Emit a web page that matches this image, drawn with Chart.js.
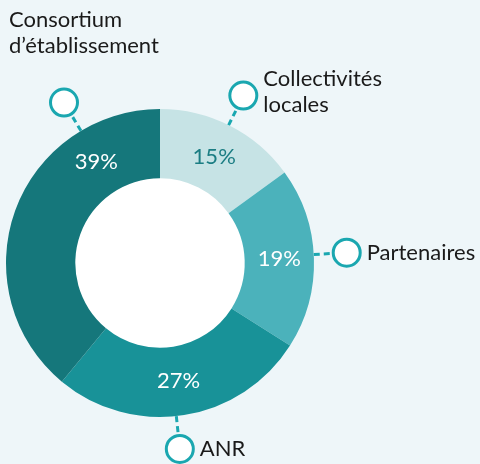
<!DOCTYPE html>
<html><head><meta charset="utf-8">
<script src="https://cdn.jsdelivr.net/npm/chart.js@4"></script>
<style>
html,body{margin:0;padding:0;background:#eef6f9;}
#wrap{position:relative;width:480px;height:464px;}
canvas{display:block;}
</style></head>
<body><div id="wrap"><canvas id="c" width="480" height="464"></canvas></div>
<script>
const categories = ["Collectivités\nlocales", "Partenaires", "ANR", "Consortium\nd’établissement"];
const values = [15, 19, 27, 39];
const percentLabels = ["15%", "19%", "27%", "39%"];
const sliceColors = ["#c6e3e5", "#4bb2bb", "#189298", "#15777b"];
const percentColors = ["#1b7d83", "#ffffff", "#ffffff", "#ffffff"];
// where along each slice (0..1) the value label and callout sit
const labelFrac = [0.5, 0.5, 0.5, 0.77];
const calloutFrac = [0.49, 0.48, 0.53, 0.78];

const FONT = "Lato, 'Open Sans', sans-serif";
const accent = "#1aa7b0";

const overlay = {
  id: 'overlay',
  beforeDatasetsDraw(chart) {
    const arc = chart.getDatasetMeta(0).data[0];
    const ctx = chart.ctx;
    ctx.save();
    ctx.beginPath();
    ctx.arc(arc.x, arc.y, arc.innerRadius + 1, 0, Math.PI * 2);
    ctx.fillStyle = "#ffffff";
    ctx.fill();
    ctx.restore();
  },
  afterDatasetsDraw(chart) {
    const meta = chart.getDatasetMeta(0);
    const ctx = chart.ctx;
    ctx.save();
    meta.data.forEach((a, i) => {
      const cx = a.x, cy = a.y;
      const R = a.outerRadius, r = a.innerRadius;
      // value label
      const la = a.startAngle + labelFrac[i] * (a.endAngle - a.startAngle);
      const lr = (R + r) / 2;
      ctx.font = "22px " + FONT;
      ctx.fillStyle = percentColors[i];
      ctx.textAlign = "center";
      ctx.textBaseline = "middle";
      ctx.fillText(percentLabels[i], cx + lr * Math.cos(la), cy + lr * Math.sin(la));
      // callout
      const ca = a.startAngle + calloutFrac[i] * (a.endAngle - a.startAngle);
      const cr = R + 33, rad = 13.5;
      const px = cx + cr * Math.cos(ca), py = cy + cr * Math.sin(ca);
      ctx.beginPath();
      ctx.setLineDash([6, 4]);
      ctx.strokeStyle = accent;
      ctx.lineWidth = 3;
      ctx.moveTo(cx + R * Math.cos(ca), cy + R * Math.sin(ca));
      ctx.lineTo(cx + (cr - rad) * Math.cos(ca), cy + (cr - rad) * Math.sin(ca));
      ctx.stroke();
      ctx.setLineDash([]);
      ctx.beginPath();
      ctx.arc(px, py, rad, 0, Math.PI * 2);
      ctx.fillStyle = "#ffffff";
      ctx.fill();
      ctx.stroke();
      // category text
      ctx.font = "22px " + FONT;
      ctx.fillStyle = "#1a1a1a";
      ctx.textAlign = "left";
      ctx.textBaseline = "alphabetic";
      const lines = categories[i].split("\n");
      if (i === 3) {
        lines.forEach((t, k) => ctx.fillText(t, 9, 27 + k * 26));
      } else if (i === 0) {
        lines.forEach((t, k) => ctx.fillText(t, px + 20, py - 10 + k * 26));
      } else {
        ctx.fillText(lines[0], px + 20, py + 7);
      }
    });
    ctx.restore();
  }
};

new Chart(document.getElementById('c'), {
  type: 'doughnut',
  data: {
    labels: categories,
    datasets: [{
      data: values,
      backgroundColor: sliceColors,
      borderWidth: 0
    }]
  },
  options: {
    responsive: false,
    animation: false,
    cutout: '55%',
    layout: { padding: { left: 6, right: 166, top: 109, bottom: 47 } },
    plugins: { legend: { display: false }, tooltip: { enabled: false } }
  },
  plugins: [overlay]
});
</script></body></html>
